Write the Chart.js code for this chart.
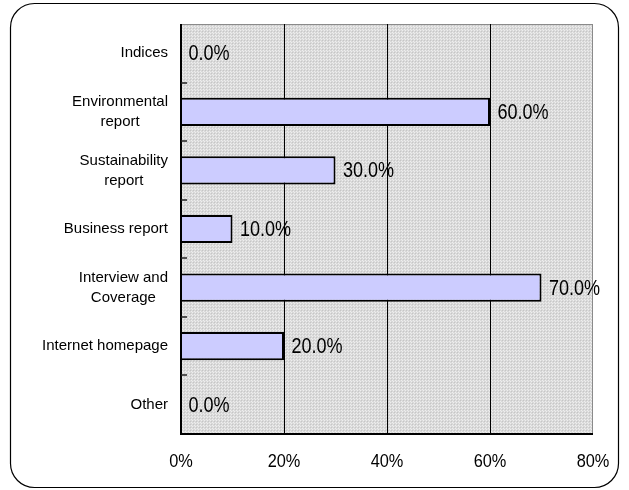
<!DOCTYPE html>
<html>
<head>
<meta charset="utf-8">
<script src="https://cdn.jsdelivr.net/npm/chart.js@4"></script>
<style>
  html, body { margin: 0; padding: 0; background: #fff; }
  #wrap { width: 629px; height: 490px; }
</style>
</head>
<body>
<div id="wrap"><canvas id="c" width="629" height="490"></canvas></div>
<script>
// chart values
const categories = [
  'Indices',
  ['Environmental', 'report'],
  ['Sustainability', 'report'],
  'Business report',
  ['Interview and', 'Coverage'],
  'Internet homepage',
  'Other'
];
const shares = [0, 60, 30, 10, 70, 20, 0];
const xTicks = [0, 20, 40, 60, 80];

const FONT = '"Liberation Sans", Arial, sans-serif';

// stippled gray plot background
function makePattern(ctx) {
  const p = document.createElement('canvas');
  p.width = 3; p.height = 3;
  const g = p.getContext('2d');
  g.fillStyle = '#d9d9d9';
  g.fillRect(0, 0, 3, 3);
  g.fillStyle = '#eeeeee';
  g.fillRect(0, 0, 1, 1);
  g.fillRect(2, 2, 1, 1);
  g.fillStyle = '#c6c6c6';
  g.fillRect(1, 1, 1, 1);
  return ctx.createPattern(p, 'repeat');
}

// narrow, tall text like the original's gothic face
function squeezedText(ctx, txt, x, y, align, sx) {
  ctx.save();
  ctx.translate(x, y);
  ctx.scale(sx, 1);
  ctx.textAlign = align;
  ctx.fillText(txt, 0, 0);
  ctx.restore();
}

const framePlugin = {
  id: 'frame',
  beforeDraw(chart) {
    const ctx = chart.ctx;
    const { left, top, right, bottom } = chart.chartArea;
    ctx.save();
    // rounded outer frame
    const x = 10.5, y = 3.5, w = 608, h = 484, r = 24;
    ctx.beginPath();
    ctx.moveTo(x + r, y);
    ctx.lineTo(x + w - r, y);
    ctx.arcTo(x + w, y, x + w, y + r, r);
    ctx.lineTo(x + w, y + h - r);
    ctx.arcTo(x + w, y + h, x + w - r, y + h, r);
    ctx.lineTo(x + r, y + h);
    ctx.arcTo(x, y + h, x, y + h - r, r);
    ctx.lineTo(x, y + r);
    ctx.arcTo(x, y, x + r, y, r);
    ctx.closePath();
    ctx.strokeStyle = '#000';
    ctx.lineWidth = 1.2;
    ctx.stroke();
    // plot area fill
    ctx.fillStyle = makePattern(ctx);
    ctx.fillRect(left, top, right - left, bottom - top);
    ctx.strokeStyle = '#8a8a8a';
    ctx.lineWidth = 1;
    ctx.strokeRect(left + 0.5, top + 0.5, right - left - 1, bottom - top);
    ctx.restore();
  },
  afterDatasetsDraw(chart) {
    const ctx = chart.ctx;
    const { left, bottom } = chart.chartArea;
    const yScale = chart.scales.y;
    const xScale = chart.scales.x;
    ctx.save();
    // axis lines
    ctx.strokeStyle = '#000';
    ctx.lineWidth = 2;
    ctx.beginPath();
    ctx.moveTo(left, chart.chartArea.top);
    ctx.lineTo(left, bottom);
    ctx.lineTo(chart.chartArea.right, bottom);
    ctx.stroke();
    // inward category ticks
    ctx.lineWidth = 1.5;
    ctx.strokeStyle = '#222';
    for (let i = 1; i < categories.length; i++) {
      const py = Math.round(yScale.getPixelForValue(i - 0.5));
      ctx.beginPath();
      ctx.moveTo(left, py);
      ctx.lineTo(left + 6, py);
      ctx.stroke();
    }
    // category labels, lines centred on each other, block right-aligned
    ctx.fillStyle = '#000';
    ctx.font = '15px ' + FONT;
    ctx.textBaseline = 'middle';
    ctx.textAlign = 'center';
    categories.forEach((lab, i) => {
      const lines = Array.isArray(lab) ? lab : [lab];
      const maxW = Math.max(...lines.map(s => ctx.measureText(s).width));
      const cx = left - 13 - maxW / 2;
      const cy = yScale.getPixelForValue(i);
      lines.forEach((s, k) => {
        ctx.fillText(s, cx, cy + (k - (lines.length - 1) / 2) * 20);
      });
    });
    // x tick labels
    ctx.font = '19px ' + FONT;
    xTicks.forEach(v => {
      squeezedText(ctx, v + '%', xScale.getPixelForValue(v), bottom + 28, 'center', 0.86);
    });
    // value labels
    const meta = chart.getDatasetMeta(0);
    ctx.font = '22px ' + FONT;
    meta.data.forEach((bar, i) => {
      squeezedText(ctx, shares[i].toFixed(1) + '%', bar.x + 7.5, bar.y + 1, 'left', 0.82);
    });
    ctx.restore();
  }
};

new Chart(document.getElementById('c'), {
  type: 'bar',
  data: {
    labels: categories,
    datasets: [{
      data: shares,
      backgroundColor: '#ccccff',
      borderColor: '#000',
      borderWidth: 2,
      borderSkipped: 'left',
      barPercentage: 0.48,
      categoryPercentage: 1
    }]
  },
  options: {
    indexAxis: 'y',
    responsive: false,
    animation: false,
    layout: { padding: { top: 24, right: 36, left: 0, bottom: 0 } },
    plugins: { legend: { display: false }, tooltip: { enabled: false } },
    scales: {
      x: {
        min: 0,
        max: 80,
        afterBuildTicks(scale) { scale.ticks = xTicks.map(v => ({ value: v })); },
        afterFit(scale) { scale.height = 56; },
        grid: {
          drawTicks: false,
          color: ctx => (ctx.tick && (ctx.tick.value === 0 || ctx.tick.value === 80)) ? 'rgba(0,0,0,0)' : '#000',
          lineWidth: 1
        },
        border: { display: false },
        ticks: { display: false }
      },
      y: {
        afterFit(scale) { scale.width = 181; },
        grid: { display: false },
        border: { display: false },
        ticks: { display: false }
      }
    }
  },
  plugins: [framePlugin]
});
</script>
</body>
</html>
